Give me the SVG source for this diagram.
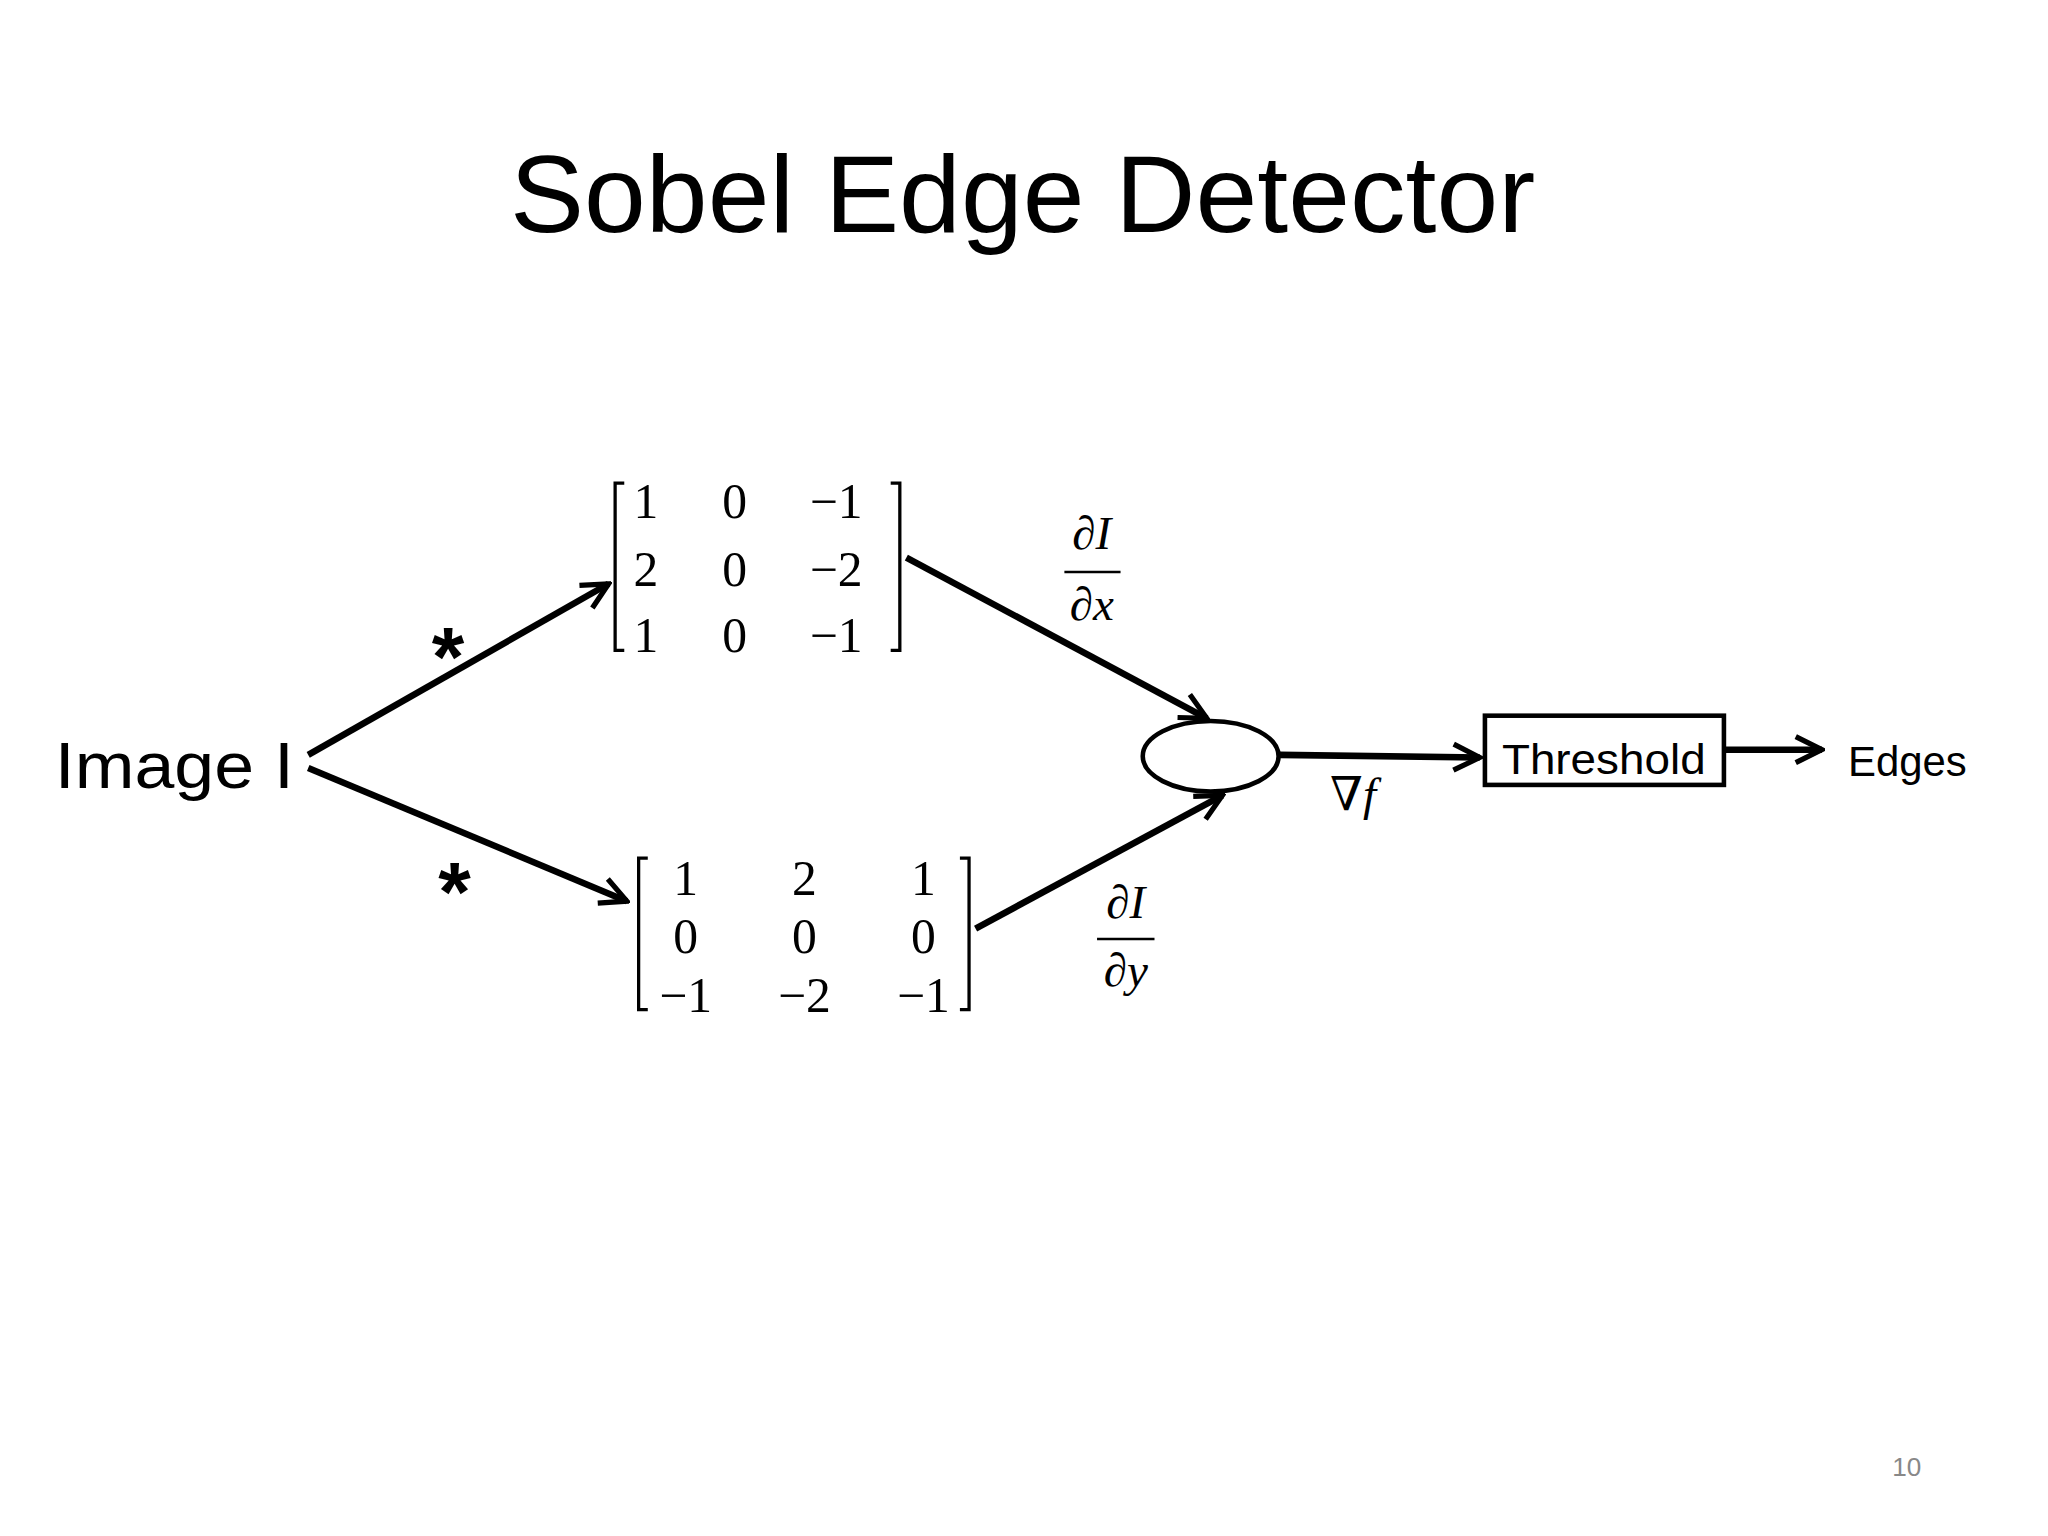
<svg xmlns="http://www.w3.org/2000/svg" width="2048" height="1536" viewBox="0 0 2048 1536">
<defs>
<style>
.s{font-family:"Liberation Sans","Open Sans",sans-serif;fill:#000}
.m{font-family:"Liberation Serif","DejaVu Serif",serif;fill:#000;font-size:38px}
.i{font-family:"Liberation Serif","DejaVu Serif",serif;font-style:italic;fill:#000;font-size:36px}
.ln{stroke:#000;stroke-width:5;fill:none}
.br{stroke:#000;stroke-width:2.5;fill:none}
</style>
<marker id="ah" viewBox="0 0 10 10" refX="9" refY="5" markerWidth="5" markerHeight="5" orient="auto" markerUnits="strokeWidth">
<path d="M1,1 L9,5 L1,9" fill="none" stroke="#000" stroke-width="1.6"/>
</marker>
</defs>
<rect width="2048" height="1536" fill="#fff"/>
<g transform="scale(1.306)">
<text class="s" x="783" y="178" font-size="84" text-anchor="middle" textLength="785" lengthAdjust="spacingAndGlyphs">Sobel Edge Detector</text>
<g id="image"><text class="s" x="42" y="603" font-size="50" textLength="183" lengthAdjust="spacingAndGlyphs">Image I</text></g>
<g id="gx">
<path class="br" d="M478,370 H471 V498 H478 M682,370 H689 V498 H682"/>
<text class="m" x="485" y="397">1</text><text class="m" x="553" y="397">0</text><text class="m" x="620" y="397">−1</text>
<text class="m" x="485" y="449">2</text><text class="m" x="553" y="449">0</text><text class="m" x="620" y="449">−2</text>
<text class="m" x="485" y="499">1</text><text class="m" x="553" y="499">0</text><text class="m" x="620" y="499">−1</text>
</g>
<g id="gy">
<path class="br" d="M496,657 H489 V773 H496 M735,657 H742 V773 H735"/>
<g text-anchor="middle">
<text class="m" x="525" y="685">1</text><text class="m" x="616" y="685">2</text><text class="m" x="707" y="685">1</text>
<text class="m" x="525" y="730">0</text><text class="m" x="616" y="730">0</text><text class="m" x="707" y="730">0</text>
<text class="m" x="525" y="775">−1</text><text class="m" x="616" y="775">−2</text><text class="m" x="707" y="775">−1</text>
</g>
</g>
<g id="mag"><ellipse cx="927" cy="579" rx="52" ry="27" fill="#fff" stroke="#000" stroke-width="3.5"/></g>
<g id="threshold"><rect x="1137" y="548" width="183" height="53" fill="#fff" stroke="#000" stroke-width="3.5"/>
<text class="s" x="1228" y="593" font-size="33" text-anchor="middle" textLength="156" lengthAdjust="spacingAndGlyphs">Threshold</text></g>
<g id="edges"><text class="s" x="1415" y="594" font-size="32" textLength="91" lengthAdjust="spacingAndGlyphs">Edges</text></g>
<g id="connectors">
<line class="ln" x1="236" y1="578" x2="466" y2="447" marker-end="url(#ah)"/>
<line class="ln" x1="236" y1="588" x2="480" y2="690" marker-end="url(#ah)"/>
<line class="ln" x1="694" y1="427" x2="924" y2="550" marker-end="url(#ah)"/>
<line class="ln" x1="747" y1="711" x2="936" y2="609" marker-end="url(#ah)"/>
<line class="ln" x1="980" y1="578" x2="1133" y2="580" marker-end="url(#ah)"/>
<line class="ln" x1="1320" y1="574" x2="1395" y2="574" marker-end="url(#ah)"/>
</g>
<text class="s" x="343" y="525" font-size="64" font-weight="bold" text-anchor="middle">*</text>
<text class="s" x="348" y="705" font-size="64" font-weight="bold" text-anchor="middle">*</text>
<text class="i" x="836" y="420" text-anchor="middle">∂I</text>
<line x1="815" y1="438" x2="858" y2="438" stroke="#000" stroke-width="2"/>
<text class="i" x="836" y="475" text-anchor="middle">∂x</text>
<text class="i" x="862" y="703" text-anchor="middle">∂I</text>
<line x1="840" y1="719" x2="884" y2="719" stroke="#000" stroke-width="2"/>
<text class="i" x="862" y="755" text-anchor="middle">∂y</text>
<text class="i" x="1036" y="620" text-anchor="middle">∇f</text>
<text class="s" x="1460" y="1130" font-size="20" style="fill:#888" text-anchor="middle">10</text>
</g>
</svg>
